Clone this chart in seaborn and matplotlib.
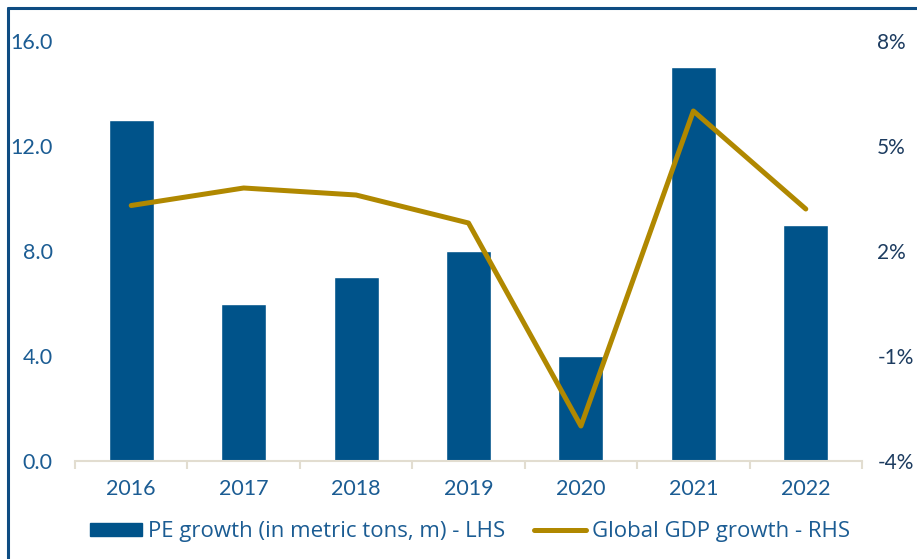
import matplotlib
matplotlib.use("Agg")
import matplotlib.pyplot as plt
from matplotlib.lines import Line2D
from matplotlib.patches import Patch
import seaborn as sns
import pandas as pd

years = ["2016", "2017", "2018", "2019", "2020", "2021", "2022"]
pe_growth = [13.0, 6.0, 7.0, 8.0, 4.0, 15.0, 9.0]
gdp_growth = [3.3, 3.8, 3.6, 2.8, -3.0, 6.0, 3.2]
left_ticks = [0, 4, 8, 12, 16]
right_ticks = [-4, -1, 2, 5, 8]

BAR = "#00538A"
LINE = "#B08800"
TXT = "#1B5C93"
TXT_R = "#1D3C60"
AXIS = "#E2DDD0"

sns.set_theme(style="white")
plt.rcParams["font.family"] = ["Lato", "DejaVu Sans"]

df = pd.DataFrame({"year": years, "pe": pe_growth, "gdp": gdp_growth})

W, H = 917, 559
fig = plt.figure(figsize=(W / 100, H / 100), dpi=100)
ax = fig.add_axes([75 / W, 1 - 461 / H, (862 - 75) / W, (461 - 41) / H])

sns.barplot(data=df, x="year", y="pe", color=BAR, width=0.4, saturation=1,
            ax=ax, zorder=2)
ax.set_xlim(-0.5, len(years) - 0.5)
ax.set_ylim(0, 16)
ax.set_yticks(left_ticks)
ax.set_yticklabels([f"{v:.1f}" for v in left_ticks])
ax.set_xlabel("")
ax.set_ylabel("")

for s in ["top", "right", "left"]:
    ax.spines[s].set_visible(False)
ax.spines["bottom"].set_color(AXIS)
ax.spines["bottom"].set_linewidth(1.5)

# category boundary ticks on the x axis
ax.set_xticks(range(len(years)))
ax.set_xticks([i - 0.5 for i in range(len(years) + 1)], minor=True)
ax.tick_params(axis="x", which="major", length=0, pad=13, labelsize=15.5, labelcolor=TXT)
ax.tick_params(axis="x", which="minor", bottom=True, length=6, width=1.5, color=AXIS)
ax.tick_params(axis="y", length=0, pad=16, labelsize=15.5, labelcolor=TXT)

ax2 = ax.twinx()
sns.lineplot(data=df, x="year", y="gdp", color=LINE, linewidth=3.6, ax=ax2,
             sort=False, zorder=3)
ax2.set_ylim(-4, 8)
ax2.set_yticks(right_ticks)
ax2.set_yticklabels([f"{v}%" for v in right_ticks])
ax2.set_ylabel("")
ax2.set_xlim(-0.5, len(years) - 0.5)
for s in ["top", "right", "left", "bottom"]:
    ax2.spines[s].set_visible(False)
ax2.tick_params(axis="y", length=0, pad=11, labelsize=15, labelcolor=TXT_R)
ax2.grid(False)
ax.grid(False)

handles = [Patch(facecolor=BAR, edgecolor=BAR),
           Line2D([0], [0], color=LINE, linewidth=3.6, solid_capstyle="round")]
labels = ["PE growth (in metric tons, m) - LHS", "Global GDP growth - RHS"]
leg = fig.legend(handles, labels, loc="center", bbox_to_anchor=(470 / W, 1 - 532 / H),
                 ncol=2, frameon=False, prop={"family": ["Open Sans", "DejaVu Sans"], "size": 16},
                 handlelength=2.35, handleheight=0.55, handletextpad=0.25, columnspacing=1.3)
for t in leg.get_texts():
    t.set_color(TXT)

# outer frame along the top and left edges
fig.add_artist(Line2D([7.5 / W, 7.5 / W], [0, 1 - 7.5 / H], transform=fig.transFigure,
                      color="#0E4C82", linewidth=2.2))
fig.add_artist(Line2D([7.5 / W, 1], [1 - 7.5 / H, 1 - 7.5 / H], transform=fig.transFigure,
                      color="#0E4C82", linewidth=2.2))

fig.savefig("out.png", dpi=100)
